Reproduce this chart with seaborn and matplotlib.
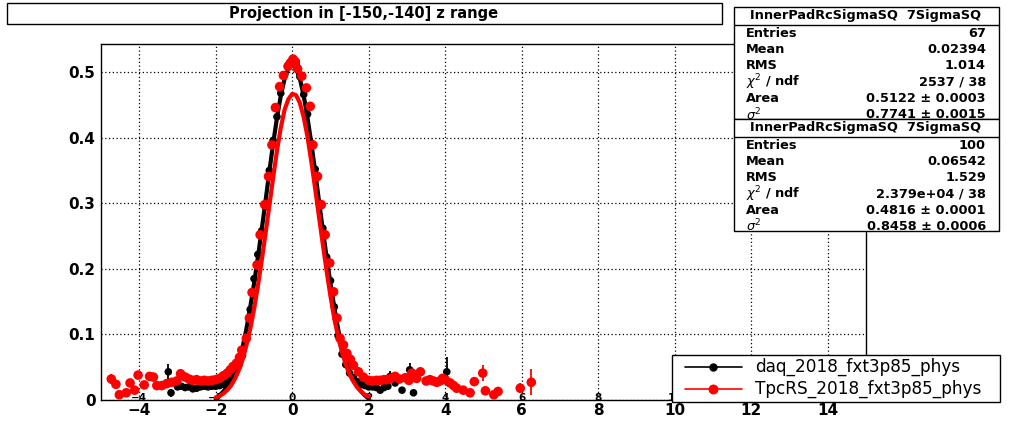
import matplotlib
matplotlib.use("Agg")
import matplotlib.pyplot as plt
import numpy as np
import pandas as pd
import seaborn as sns
from matplotlib.patches import Rectangle
from matplotlib.lines import Line2D
from matplotlib.ticker import MultipleLocator, FuncFormatter

sns.set_style("white")
plt.rcParams["font.family"] = ["DejaVu Sans"]
plt.rcParams["text.color"] = "black"
plt.rcParams["xtick.color"] = "black"
plt.rcParams["ytick.color"] = "black"
plt.rcParams["axes.labelcolor"] = "black"

W, H = 1019, 446

# ---- data ----
title = "Projection in [-150,-140] z range"
daq_label = "daq_2018_fxt3p85_phys"
rs_label = "TpcRS_2018_fxt3p85_phys"

daq_x = [-3.24, -3.17, -3.0, -2.9, -2.8, -2.7, -2.6, -2.5, -2.4, -2.3, -2.2, -2.1,
         -2.0, -1.9, -1.8, -1.7, -1.6, -1.5, -1.4, -1.3, -1.2, -1.1, -1.0,
         -0.9, -0.8, -0.7, -0.6, -0.5, -0.4, -0.3, -0.2, -0.1, 0.0,
         0.1, 0.2, 0.3, 0.4, 0.5, 0.6, 0.7, 0.8, 0.9, 1.0,
         1.1, 1.2, 1.3, 1.4, 1.5, 1.6, 1.7, 1.8, 1.9, 2.0,
         2.1, 2.2, 2.3, 2.4, 2.5, 2.56, 2.69, 2.87, 3.07, 3.17, 4.04]
daq_y = [0.043, 0.011, 0.020, 0.021, 0.019, 0.020, 0.017, 0.018, 0.020, 0.021, 0.020, 0.021,
         0.021, 0.022, 0.024, 0.027, 0.032, 0.040, 0.052, 0.068, 0.095, 0.138, 0.185,
         0.222, 0.258, 0.295, 0.350, 0.396, 0.432, 0.468, 0.496, 0.511, 0.518,
         0.512, 0.493, 0.466, 0.436, 0.392, 0.352, 0.300, 0.262, 0.218, 0.182,
         0.142, 0.098, 0.070, 0.054, 0.041, 0.034, 0.028, 0.024, 0.022, 0.020,
         0.020, 0.019, 0.015, 0.019, 0.021, 0.036, 0.026, 0.015, 0.046, 0.011, 0.043]
daq_err_big = {-3.24: 0.012, -3.17: 0.006, 2.56: 0.008, 3.07: 0.010, 3.17: 0.005, 4.04: 0.022}

rs_x = [-4.73, -4.61, -4.52, -4.34, -4.24, -4.12, -4.03, -3.87, -3.73, -3.63, -3.54, -3.41,
        -3.28, -3.15, -3.02, -2.92, -2.80, -2.70, -2.60, -2.50, -2.40, -2.30, -2.20, -2.10,
        -2.00, -1.90, -1.80, -1.70, -1.62, -1.55, -1.46, -1.38, -1.32, -1.20, -1.12, -1.05,
        -0.92, -0.84, -0.72, -0.62, -0.53, -0.44, -0.33, -0.23, -0.11, -0.05, 0.02, 0.08,
        0.14, 0.25, 0.37, 0.47, 0.54, 0.66, 0.76, 0.86, 0.98, 1.08, 1.17, 1.25, 1.34, 1.43,
        1.52, 1.60, 1.73, 1.86, 2.00, 2.10, 2.20, 2.30, 2.40, 2.47, 2.58, 2.69, 2.80, 2.96,
        3.05, 3.13, 3.25, 3.35, 3.50, 3.60, 3.69, 3.78, 3.86, 3.93, 4.00, 4.13, 4.22, 4.30,
        4.47, 4.65, 4.76, 4.98, 5.05, 5.27, 5.38, 5.96, 6.25]
rs_y = [0.032, 0.024, 0.008, 0.011, 0.026, 0.015, 0.038, 0.023, 0.036, 0.035, 0.022, 0.022,
        0.025, 0.027, 0.029, 0.040, 0.035, 0.032, 0.030, 0.031, 0.029, 0.030, 0.029, 0.030,
        0.031, 0.033, 0.037, 0.041, 0.046, 0.051, 0.056, 0.065, 0.076, 0.094, 0.125, 0.164,
        0.206, 0.252, 0.298, 0.341, 0.389, 0.446, 0.478, 0.495, 0.509, 0.514, 0.520, 0.516,
        0.505, 0.494, 0.476, 0.448, 0.389, 0.341, 0.298, 0.252, 0.209, 0.165, 0.125, 0.094,
        0.084, 0.071, 0.062, 0.053, 0.043, 0.035, 0.030, 0.029, 0.030, 0.030, 0.031, 0.031,
        0.033, 0.036, 0.032, 0.034, 0.030, 0.041, 0.033, 0.043, 0.029, 0.031, 0.029, 0.027,
        0.029, 0.033, 0.031, 0.026, 0.022, 0.018, 0.015, 0.011, 0.028, 0.041, 0.014, 0.008,
        0.013, 0.018, 0.027]
rs_err_big = {-4.73: 0.008, 4.98: 0.012, 5.96: 0.008, 6.25: 0.020}

fit_x = [-2.0, -1.9, -1.8, -1.7, -1.6, -1.5, -1.4, -1.3, -1.2, -1.1, -1.0,
         -0.9, -0.8, -0.7, -0.6, -0.5, -0.4, -0.3, -0.2, -0.1, 0.0,
         0.1, 0.2, 0.3, 0.4, 0.5, 0.6, 0.7, 0.8, 0.9, 1.0,
         1.1, 1.2, 1.3, 1.4, 1.5, 1.6, 1.7, 1.8, 1.9, 2.0]
daq_fit = [0.002, 0.007, 0.013, 0.021, 0.031, 0.044, 0.058, 0.080, 0.108, 0.141, 0.177,
           0.217, 0.259, 0.303, 0.348, 0.391, 0.430, 0.464, 0.490, 0.506, 0.512,
           0.506, 0.490, 0.464, 0.430, 0.391, 0.348, 0.303, 0.259, 0.217, 0.177,
           0.141, 0.108, 0.080, 0.058, 0.044, 0.031, 0.021, 0.013, 0.007, 0.002]
rs_fit = [0.004, 0.006, 0.010, 0.015, 0.022, 0.032, 0.045, 0.061, 0.083, 0.108, 0.138,
          0.173, 0.212, 0.253, 0.296, 0.339, 0.380, 0.415, 0.443, 0.459, 0.467,
          0.465, 0.453, 0.431, 0.401, 0.363, 0.322, 0.279, 0.237, 0.196, 0.158,
          0.124, 0.096, 0.073, 0.054, 0.039, 0.028, 0.019, 0.013, 0.008, 0.005]

stats_title = "InnerPadRcSigmaSQ  7SigmaSQ"
stat_names = ["Entries", "Mean", "RMS", r"$\chi^{2}$ / ndf", "Area", r"$\sigma^{2}$"]
daq_stats = ["67", "0.02394", "1.014", "2537 / 38", "0.5122 \u00b1 0.0003", "0.7741 \u00b1 0.0015"]
rs_stats = ["100", "0.06542", "1.529", "2.379e+04 / 38", "0.4816 \u00b1 0.0001", "0.8458 \u00b1 0.0006"]

x_ticks = [-4, -2, 0, 2, 4, 6, 8, 10, 12, 14]
ghost_ticks = [-4, -2, 0, 2, 4, 6, 8, 10]


def fx(px):
    return px / W


def fy(py):
    return 1 - py / H


daq = pd.DataFrame({"x": daq_x, "y": daq_y})
daq["err"] = [daq_err_big.get(v, 0.003) for v in daq_x]
rs = pd.DataFrame({"x": rs_x, "y": rs_y})
rs["err"] = [rs_err_big.get(v, 0.004) for v in rs_x]
fits = pd.DataFrame({"x": fit_x, "daq": daq_fit, "rs": rs_fit})

fig = plt.figure(figsize=(W / 100, H / 100), dpi=100)
ax = fig.add_axes([fx(101), 1 - 400 / H, (866 - 101) / W, (400 - 44) / H])

# black histogram + fit
ax.errorbar(daq["x"], daq["y"], yerr=daq["err"], xerr=0.05, fmt="none",
            ecolor="black", elinewidth=1.3, zorder=2)
sns.scatterplot(data=daq, x="x", y="y", color="black", s=30, edgecolor="none",
                ax=ax, zorder=3)
sns.lineplot(data=fits, x="x", y="daq", color="black", linewidth=3, ax=ax,
             sort=False, zorder=4)
# red histogram + fit
ax.errorbar(rs["x"], rs["y"], yerr=rs["err"], xerr=0.05, fmt="none",
            ecolor="red", elinewidth=1.3, zorder=5)
sns.scatterplot(data=rs, x="x", y="y", color="red", s=48, edgecolor="none",
                ax=ax, zorder=6)
sns.lineplot(data=fits, x="x", y="rs", color="red", linewidth=3, ax=ax,
             sort=False, zorder=7)

ax.set_xlim(-5, 15)
ax.set_ylim(0, 0.543)
ax.set_xlabel("")
ax.set_ylabel("")
ax.set_xticks(x_ticks)
ax.xaxis.set_minor_locator(MultipleLocator(0.5))
ax.yaxis.set_major_locator(MultipleLocator(0.1))
ax.yaxis.set_minor_locator(MultipleLocator(0.02))
ax.yaxis.set_major_formatter(FuncFormatter(lambda v, p: "0" if abs(v) < 1e-9 else f"{v:.1f}"))
ax.grid(True, which="major", color="black", linestyle=(0, (1, 2)), linewidth=0.9)
ax.tick_params(axis="x", which="major", direction="in", length=8, width=1,
               labelsize=11, pad=2, top=False, colors="black")
ax.tick_params(axis="x", which="minor", direction="in", length=5, width=1, top=False,
               colors="black")
ax.tick_params(axis="y", which="major", direction="in", length=18.5, width=1,
               labelsize=11, pad=4, right=False, colors="black")
ax.tick_params(axis="y", which="minor", direction="in", length=9.5, width=1, right=False,
               colors="black")
for lab in ax.get_xticklabels() + ax.get_yticklabels():
    lab.set_fontweight("bold")
for sp in ax.spines.values():
    sp.set_color("black")
    sp.set_linewidth(1)

# small duplicated axis labels drawn by the second histogram
for t in ghost_ticks:
    ax.text(t, 0.003, f"{t}".replace("-", "\u2212"), ha="center", va="center",
            fontsize=7.5, fontweight="bold", color="black", zorder=1)

# title box
fig.patches.append(Rectangle((fx(7), fy(24)), (722 - 7) / W, 21 / H, transform=fig.transFigure,
                             facecolor="white", edgecolor="black", linewidth=1, zorder=5))
fig.text(fx(364), fy(13.5), title, ha="center", va="center", fontsize=10.5,
         fontweight="bold", color="black", zorder=6)

# stats boxes
for top, bottom, vals in [(7, 119, daq_stats), (119, 231, rs_stats)]:
    fig.patches.append(Rectangle((fx(734), fy(bottom)), (999 - 734) / W, (bottom - top) / H,
                                 transform=fig.transFigure, facecolor="white",
                                 edgecolor="black", linewidth=1, zorder=5))
    fig.lines.append(Line2D([fx(734), fx(999)], [fy(top + 18), fy(top + 18)],
                            transform=fig.transFigure, color="black", linewidth=1, zorder=6))
    fig.text(fx(866), fy(top + 9), stats_title, ha="center", va="center", fontsize=9.3,
             fontweight="bold", color="black", zorder=6)
    for i, (name, val) in enumerate(zip(stat_names, vals)):
        yy = top + 26.5 + 16.2 * i
        fig.text(fx(746), fy(yy), name, ha="left", va="center", fontsize=9.3,
                 fontweight="bold", color="black", zorder=6)
        fig.text(fx(986), fy(yy), val, ha="right", va="center", fontsize=9.3,
                 fontweight="bold", color="black", zorder=6)

# legend box
fig.patches.append(Rectangle((fx(672), fy(402)), (1000 - 672) / W, 47 / H,
                             transform=fig.transFigure, facecolor="white",
                             edgecolor="black", linewidth=1, zorder=5))
for yy, col, ms, lab in [(366.7, "black", 7, daq_label), (389.3, "red", 8.5, rs_label)]:
    fig.lines.append(Line2D([fx(685), fx(742)], [fy(yy), fy(yy)], transform=fig.transFigure,
                            color=col, linewidth=1.2, zorder=6))
    fig.lines.append(Line2D([fx(713)], [fy(yy)], transform=fig.transFigure, color=col,
                            marker="o", markersize=ms * 0.72, linestyle="none", zorder=6))
    fig.text(fx(755), fy(yy), lab, ha="left", va="center", fontsize=12.2,
             color="black", zorder=6)

fig.savefig("out.png", dpi=100)
